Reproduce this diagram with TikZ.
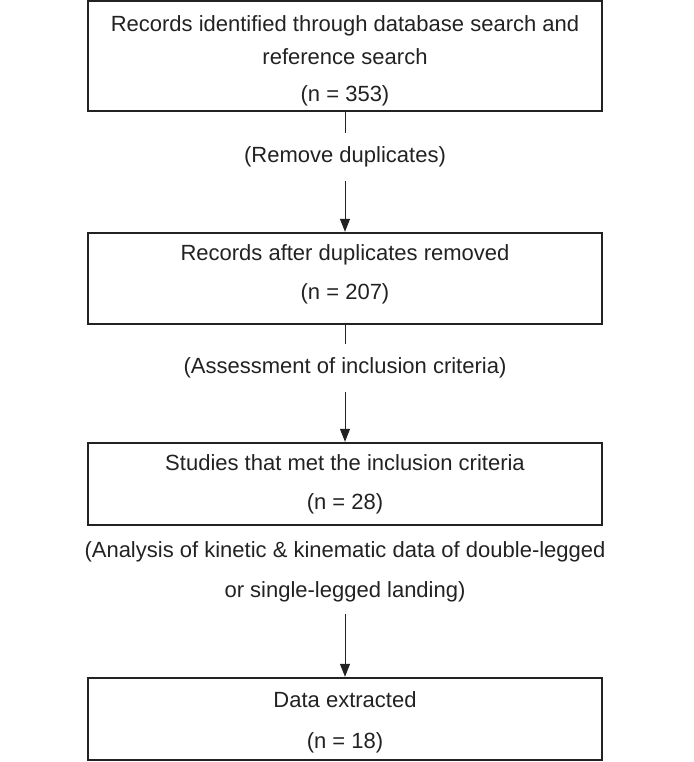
\documentclass[tikz,border=0pt]{standalone}
\usepackage{fontspec}
\setmainfont{Liberation Sans}
\usetikzlibrary{arrows.meta}
\definecolor{ink}{HTML}{222222}
\begin{document}
\begin{tikzpicture}[x=1pt,y=-1pt,
  box/.style={draw=ink, line width=2.4pt, minimum width=514pt, inner sep=0pt,
    text=ink, align=center, font=\fontsize{22}{33}\selectfont},
  lbl/.style={inner xsep=0pt, inner ysep=0pt, text=ink, align=center,
    font=\fontsize{22}{40}\selectfont},
  conn/.style={draw=ink, line width=1pt},
  arr/.style={conn, -{Triangle[length=13pt,width=10pt]}}]
\useasboundingbox (0,0) rectangle (693,762);
\node[box, minimum height=110pt] (b1) at (345,56)
  {\rule{0pt}{26pt}Records identified through database search and\\reference search\\[4pt](n = 353)};
\node[box, minimum height=91pt] (b2) at (345,278.5)
  {Records after duplicates removed\\[6pt](n = 207)\rule[-12.5pt]{0pt}{0pt}};
\node[box, minimum height=82pt] (b3) at (345,484)
  {Studies that met the inclusion criteria\\[6pt](n = 28)};
\node[box, minimum height=82pt] (b4) at (345,719)
  {\rule{0pt}{22pt}Data extracted\\[8pt](n = 18)};
\node[lbl, minimum height=47pt] (l1) at (345,157) {(Remove duplicates)};
\node[lbl, minimum height=47pt] (l2) at (345,368) {(Assessment of inclusion criteria)};
\node[lbl, inner ysep=12pt] (l3) at (345,572)
  {(Analysis of kinetic \& kinematic data of double-legged\\or single-legged landing)};
\draw[conn] (b1.south) -- (l1.north);
\draw[arr] (l1.south) -- (b2.north);
\draw[conn] (b2.south) -- (l2.north);
\draw[arr] (l2.south) -- (b3.north);
\draw[arr] (l3.south) -- (b4.north);
\end{tikzpicture}
\end{document}
